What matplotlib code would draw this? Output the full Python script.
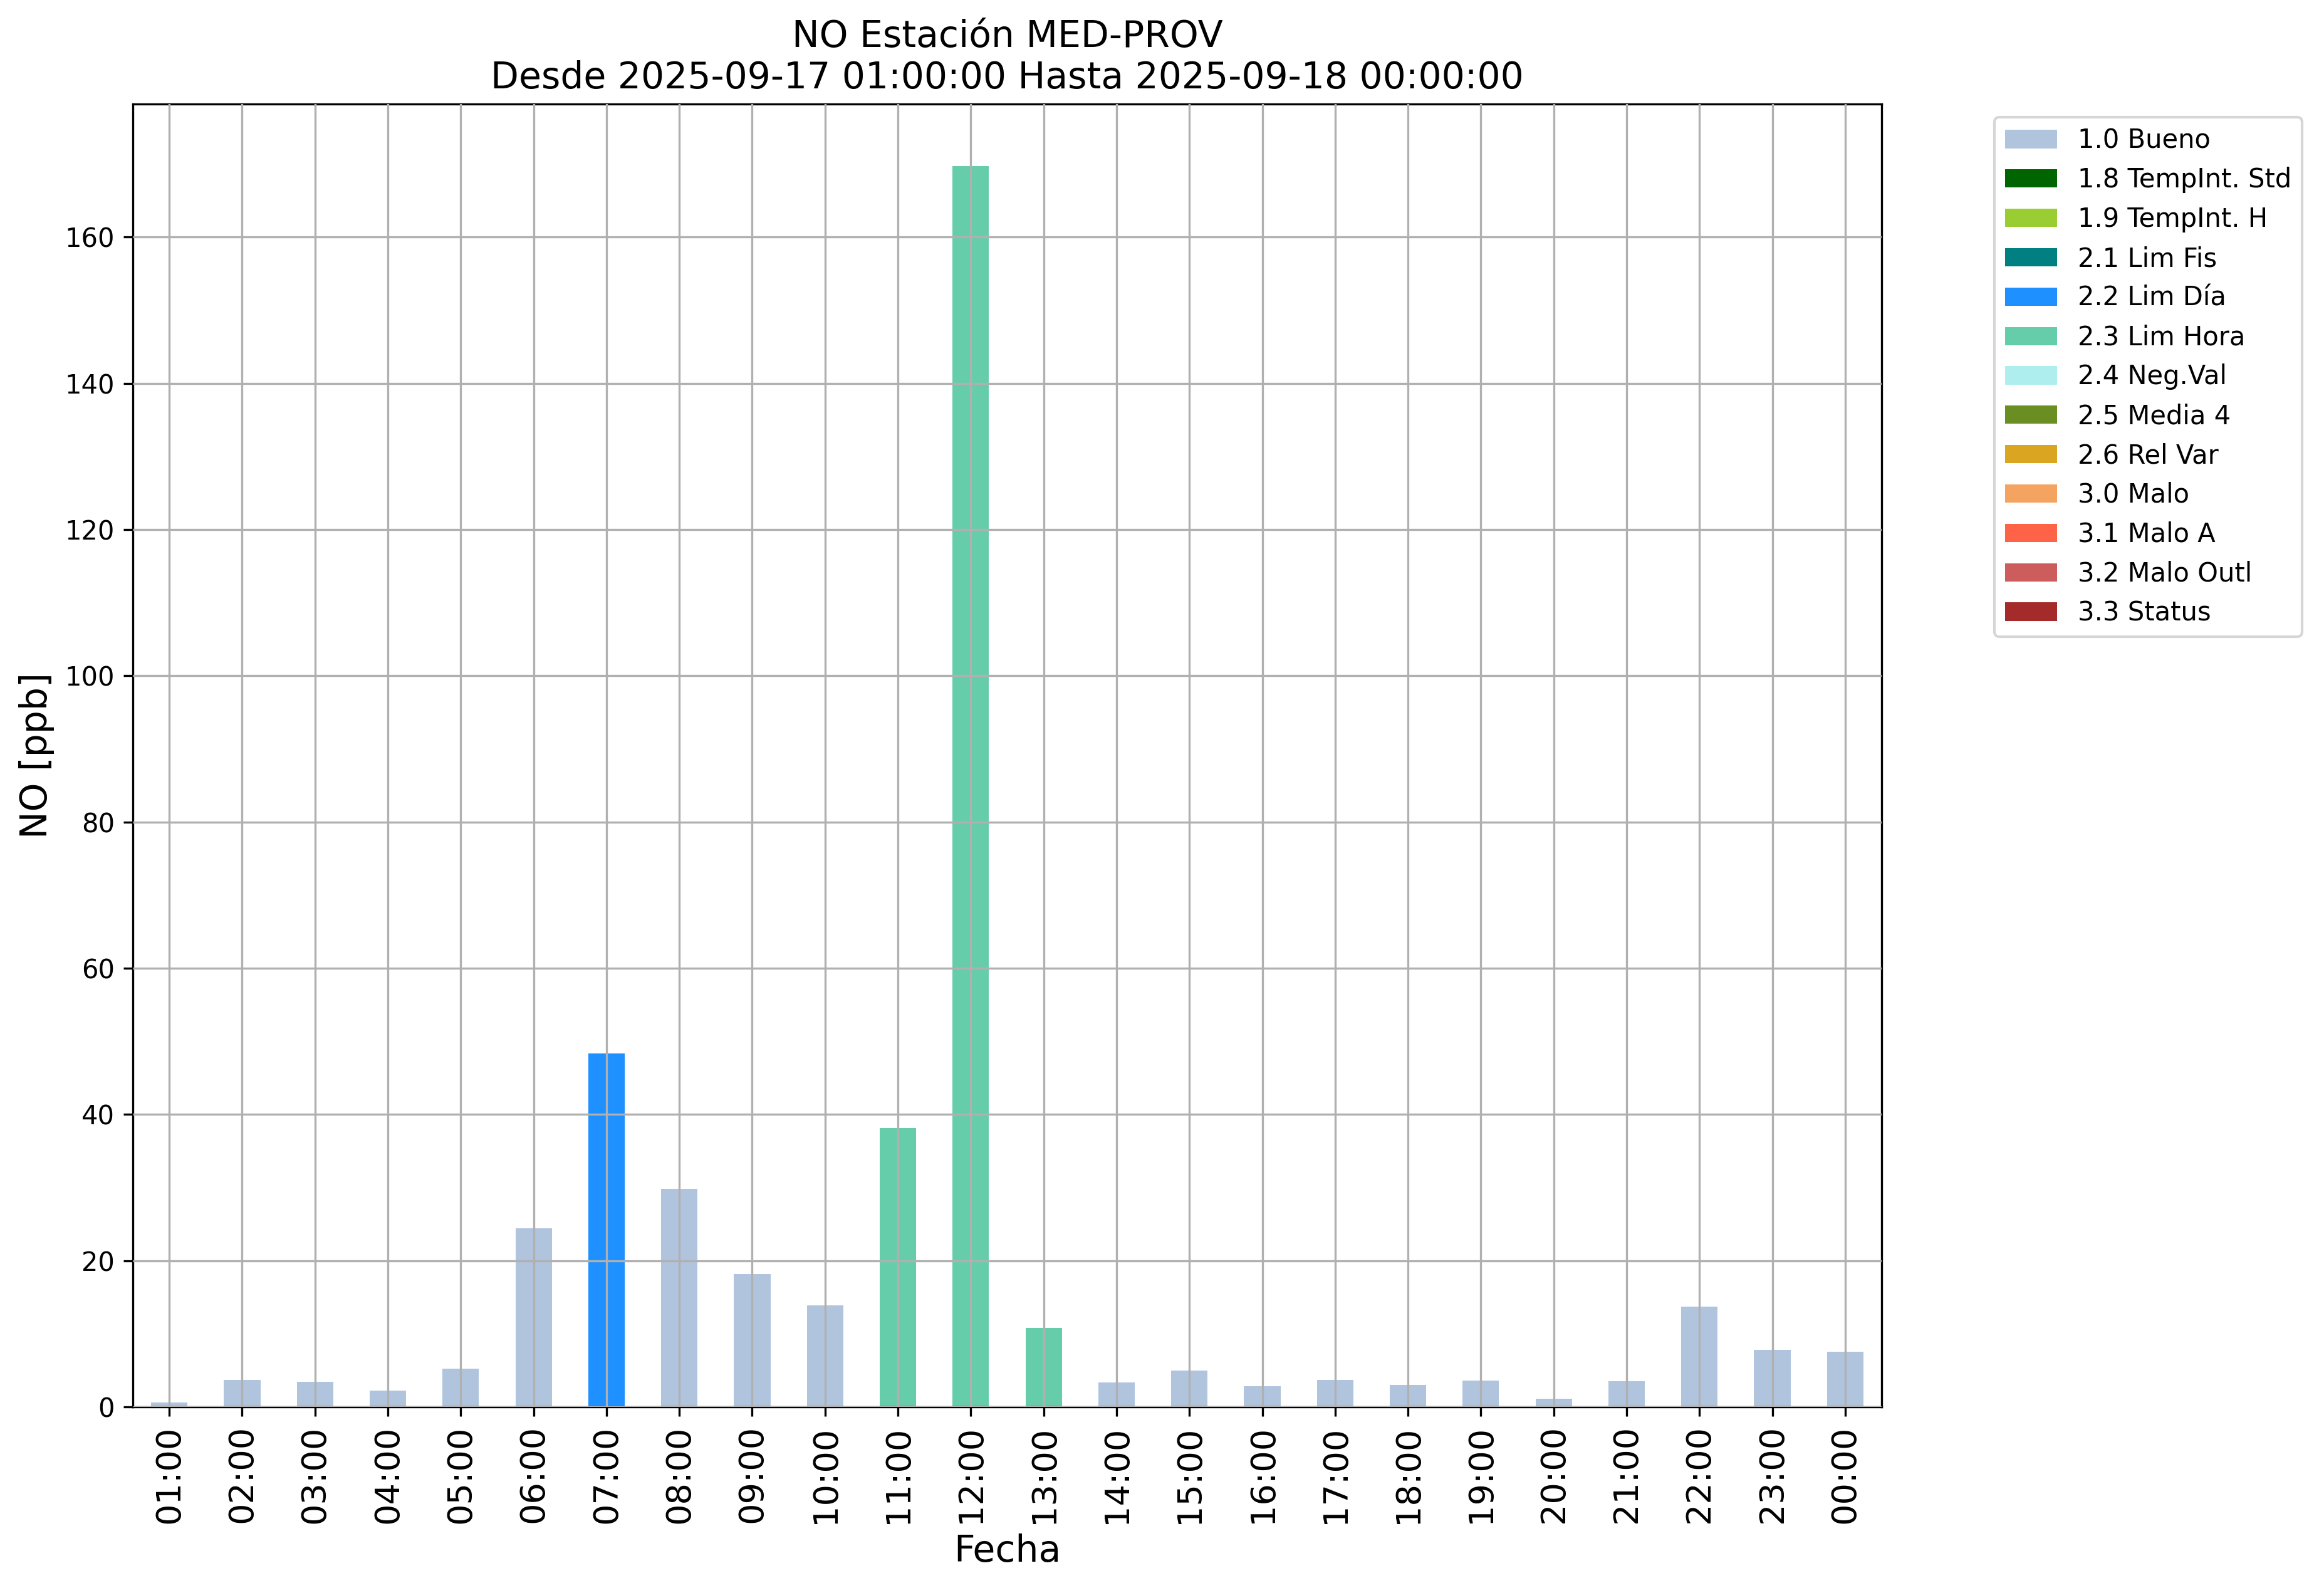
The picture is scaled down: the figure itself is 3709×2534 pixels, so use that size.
import matplotlib
matplotlib.use("Agg")
import matplotlib.pyplot as plt
from matplotlib.patches import Patch

hours = ['01:00', '02:00', '03:00', '04:00', '05:00', '06:00', '07:00', '08:00',
         '09:00', '10:00', '11:00', '12:00', '13:00', '14:00', '15:00', '16:00',
         '17:00', '18:00', '19:00', '20:00', '21:00', '22:00', '23:00', '00:00']
values = [0.6, 3.7, 3.4, 2.2, 5.2, 24.4, 48.3, 29.8, 18.2, 13.9, 38.1, 169.7,
          10.8, 3.3, 5.0, 2.8, 3.7, 3.0, 3.6, 1.1, 3.5, 13.7, 7.8, 7.5]
flags = ['1.0 Bueno'] * 6 + ['2.2 Lim Día'] + ['1.0 Bueno'] * 3 + ['2.3 Lim Hora'] * 3 + ['1.0 Bueno'] * 11

legend_labels = ['1.0 Bueno', '1.8 TempInt. Std', '1.9 TempInt. H', '2.1 Lim Fis',
                 '2.2 Lim Día', '2.3 Lim Hora', '2.4 Neg.Val', '2.5 Media 4',
                 '2.6 Rel Var', '3.0 Malo', '3.1 Malo A', '3.2 Malo Outl', '3.3 Status']
legend_colors = ['lightsteelblue', 'darkgreen', 'yellowgreen', 'teal', 'dodgerblue',
                 'mediumaquamarine', 'paleturquoise', 'olivedrab', 'goldenrod',
                 'sandybrown', 'tomato', 'indianred', 'brown']
color_map = dict(zip(legend_labels, legend_colors))

fig = plt.figure(figsize=(3709 / 300, 2534 / 300), dpi=300)
ax = fig.add_axes([212 / 3709, 1 - 2245 / 2534, (3003 - 212) / 3709, (2245 - 166) / 2534])

x = list(range(len(hours)))
ax.bar(x, values, width=0.5, color=[color_map[f] for f in flags], zorder=2)
ax.set_xlim(-0.5, len(hours) - 0.5)
ax.set_xticks(x)
ax.set_xticklabels(hours, rotation=90, fontsize=13)
ax.tick_params(axis='y', labelsize=10)
ax.grid(True, zorder=0)
ax.set_axisbelow(False)
ax.set_xlabel('Fecha', fontsize=14)
ax.set_ylabel('NO [ppb]', fontsize=14)
ax.set_title('NO Estación MED-PROV\nDesde 2025-09-17 01:00:00 Hasta 2025-09-18 00:00:00', fontsize=14)

handles = [Patch(facecolor=c, label=l) for l, c in zip(legend_labels, legend_colors)]
ax.legend(handles=handles, loc='upper left', bbox_to_anchor=(1.057, 1), fontsize=10)

fig.savefig('out.png', dpi=300)
